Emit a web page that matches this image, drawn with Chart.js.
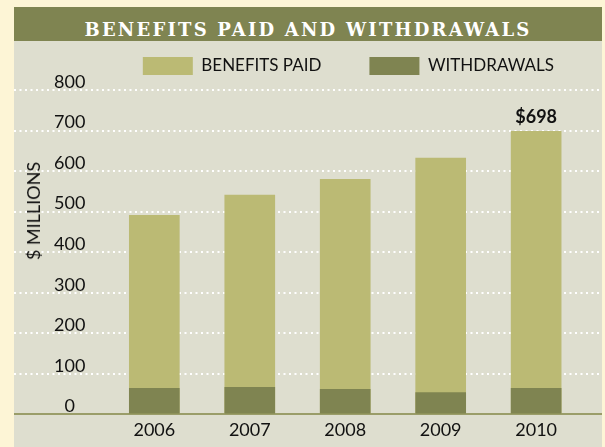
<!DOCTYPE html>
<html>
<head>
<meta charset="utf-8">
<title>Benefits Paid and Withdrawals</title>
<script src="https://cdn.jsdelivr.net/npm/chart.js@4/dist/chart.umd.min.js"></script>
<style>
  html, body { margin: 0; padding: 0; }
  body {
    width: 605px; height: 447px; overflow: hidden; position: relative;
    background: #fdf5d6; font-family: Lato, sans-serif;
  }
  #panel {
    position: absolute; left: 14px; top: 7px; width: 588px; height: 440px;
    background: #dedecf;
  }
  #heading {
    margin: 0; height: 34px; line-height: 46px; overflow: hidden; text-align: center;
    background: #7f8451; color: #ffffff;
    font-family: "DejaVu Serif", serif; font-weight: bold; font-size: 18px; letter-spacing: 2.2px;
  }
  #plot { position: absolute; left: 0; top: 34px; }
  #unit {
    position: absolute; left: 19px; top: 204px;
    transform: translate(-50%, -50%) rotate(-90deg);
    white-space: nowrap; font-size: 18px; line-height: 1; color: #111;
  }
</style>
</head>
<body>
<div id="panel">
  <h1 id="heading">BENEFITS PAID AND WITHDRAWALS</h1>
  <canvas id="plot" width="588" height="406"></canvas>
  <div id="unit">$ MILLIONS</div>
</div>
<script>
// Annual figures, $ millions
const YEARS = [2006, 2007, 2008, 2009, 2010];
const BENEFITS_PAID = [491, 541, 580, 632, 698];
const WITHDRAWALS = [64, 67, 62, 54, 64];
const Y_TICKS = [0, 100, 200, 300, 400, 500, 600, 700, 800];
const CALLOUT_YEARS = [2010];

const INK = '#111111';
Chart.defaults.font.family = 'Lato, sans-serif';
Chart.defaults.color = INK;

// Legend row sits in a fixed band above the plot
const legendBand = {
  id: 'legendBand',
  afterInit(chart) {
    const legend = chart.legend;
    const fit = legend.fit;
    legend.fit = function () { fit.call(this); this.height = 81; };
  }
};

// Dollar callout above selected bars
const callout = {
  id: 'callout',
  afterDatasetsDraw(chart) {
    const meta = chart.getDatasetMeta(0);
    const ctx = chart.ctx;
    ctx.save();
    ctx.font = 'bold 18px Lato, sans-serif';
    ctx.fillStyle = INK;
    ctx.textAlign = 'center';
    ctx.textBaseline = 'alphabetic';
    YEARS.forEach((yr, i) => {
      if (!CALLOUT_YEARS.includes(yr)) return;
      const bar = meta.data[i];
      ctx.fillText('$' + BENEFITS_PAID[i], bar.x, bar.y - 8);
    });
    ctx.restore();
  }
};

const toPoints = (vals) => YEARS.map((x, i) => ({ x, y: vals[i] }));

new Chart(document.getElementById('plot'), {
  type: 'bar',
  data: {
    datasets: [
      {
        label: 'BENEFITS PAID',
        data: toPoints(BENEFITS_PAID),
        backgroundColor: '#bbba74',
        borderColor: '#bbba74',
        borderWidth: 0,
        grouped: false,
        barThickness: 50,
        order: 1
      },
      {
        label: 'WITHDRAWALS',
        data: toPoints(WITHDRAWALS),
        backgroundColor: '#7f8451',
        borderColor: '#7f8451',
        borderWidth: 0,
        grouped: false,
        barThickness: 50,
        order: 0
      }
    ]
  },
  options: {
    responsive: false,
    animation: false,
    devicePixelRatio: 1,
    layout: { padding: { top: -32, bottom: 1, left: 0, right: 0 } },
    plugins: {
      legend: {
        position: 'top',
        align: 'end',
        labels: {
          boxWidth: 50,
          boxHeight: 18,
          padding: 48,
          color: INK,
          font: { size: 17 },
          sort: (a, b) => a.datasetIndex - b.datasetIndex
        }
      },
      tooltip: { enabled: false }
    },
    scales: {
      x: {
        type: 'linear',
        min: 2004.53,
        max: 2010.69,
        offset: false,
        grid: { display: false, drawTicks: false },
        border: { display: true, color: '#9a9d69', width: 2 },
        afterBuildTicks: (scale) => { scale.ticks = YEARS.map((v) => ({ value: v })); },
        ticks: {
          padding: 5,
          color: INK,
          font: { size: 18 },
          autoSkip: false,
          maxRotation: 0,
          callback: (v) => String(v)
        }
      },
      y: {
        min: 0,
        max: 800,
        grid: {
          color: (c) => (c.tick && c.tick.value === 0 ? 'rgba(0,0,0,0)' : '#ffffff'),
          lineWidth: 2,
          drawTicks: false
        },
        border: { display: false, dash: [2, 3.5] },
        afterBuildTicks: (scale) => { scale.ticks = Y_TICKS.map((v) => ({ value: v })); },
        afterFit: (scale) => { scale.width = 0; scale.paddingTop = 0; scale.paddingBottom = 0; },
        ticks: {
          mirror: true,
          crossAlign: 'center',
          padding: 40,
          labelOffset: -8,
          color: INK,
          font: { size: 18 },
          autoSkip: false
        }
      }
    }
  },
  plugins: [legendBand, callout]
});
</script>
</body>
</html>
